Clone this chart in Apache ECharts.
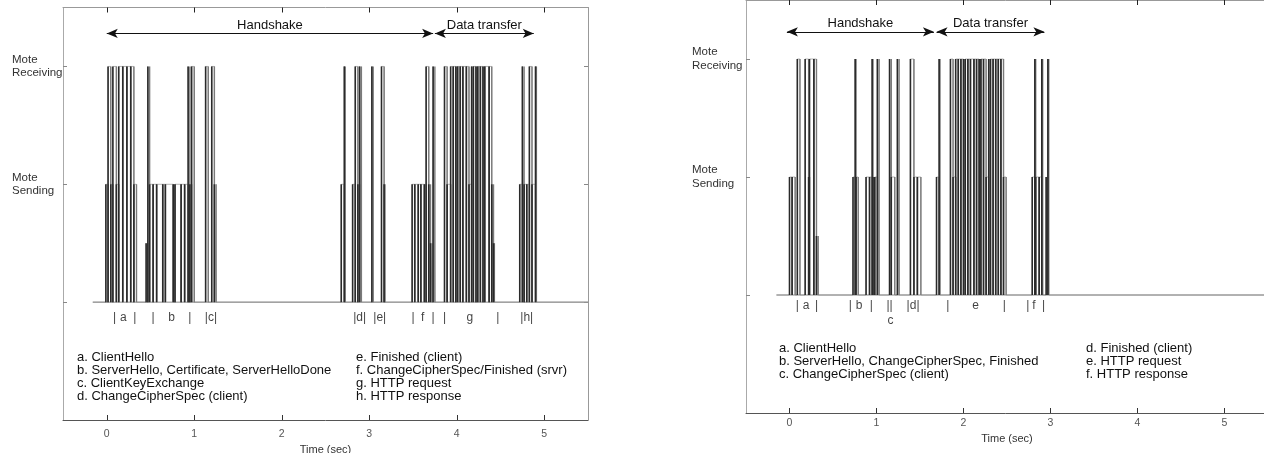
<!DOCTYPE html>
<html>
<head>
<meta charset="utf-8">
<script src="https://cdn.jsdelivr.net/npm/echarts@6/dist/echarts.min.js"></script>
<style>
html,body{margin:0;padding:0;background:#fff;}
#chart{width:1264px;height:453px;}
</style>
</head>
<body>
<div id="chart"></div>
<script>
// ---------- data ----------
const X_TICKS = [0, 1, 2, 3, 4, 5];
const Y_TICKS = [0, 1, 2];
const Y_TICK_LABELS = ['', 'Mote\nSending', 'Mote\nReceiving'];

// [start (s), end (s), state]  state: 0 idle, 1 sending, 2 receiving
const LEFT_SPAN = [-0.16, 5.5];
const LEFT_PULSES = [
  [-0.01, 0.015, 1], [0.015, 0.046, 2], [0.046, 0.07, 1], [0.07, 0.11, 2], [0.11, 0.137, 1],
  [0.137, 0.183, 2], [0.183, 0.23, 2], [0.23, 0.274, 2], [0.274, 0.31, 2], [0.31, 0.34, 1],
  [0.45, 0.47, 0.5], [0.47, 0.49, 2], [0.49, 0.53, 1], [0.53, 0.57, 1], [0.57, 0.64, 1],
  [0.64, 0.67, 1], [0.67, 0.76, 1], [0.76, 0.78, 1], [0.78, 0.85, 1], [0.85, 0.89, 1],
  [0.89, 0.93, 1], [0.93, 0.95, 2], [0.95, 0.97, 1], [0.97, 1.00, 2],
  [1.13, 1.16, 2], [1.20, 1.23, 2], [1.23, 1.25, 1],
  [2.68, 2.715, 1], [2.715, 2.725, 2], [2.81, 2.84, 1], [2.84, 2.87, 2], [2.87, 2.89, 1], [2.89, 2.91, 2],
  [3.03, 3.045, 2], [3.14, 3.17, 2], [3.17, 3.18, 1],
  [3.49, 3.52, 1], [3.52, 3.56, 1], [3.56, 3.59, 1], [3.59, 3.63, 1], [3.63, 3.65, 1],
  [3.65, 3.68, 2], [3.68, 3.70, 1], [3.70, 3.72, 0.5], [3.73, 3.75, 2],
  [3.86, 3.89, 2], [3.89, 3.93, 1], [3.93, 3.96, 2], [3.96, 3.99, 2], [3.99, 4.01, 2],
  [4.01, 4.04, 2], [4.04, 4.07, 2], [4.07, 4.11, 2], [4.11, 4.14, 2], [4.14, 4.17, 1],
  [4.17, 4.19, 2], [4.19, 4.22, 2], [4.22, 4.24, 2], [4.24, 4.27, 2], [4.27, 4.30, 2],
  [4.30, 4.32, 2], [4.32, 4.37, 2], [4.37, 4.40, 2], [4.40, 4.42, 1], [4.42, 4.43, 0.5],
  [4.72, 4.75, 1], [4.75, 4.77, 2], [4.77, 4.80, 1], [4.80, 4.83, 1], [4.83, 4.86, 2],
  [4.86, 4.90, 1], [4.90, 4.91, 2]
];

const RIGHT_SPAN = [-0.15, 5.5];
const RIGHT_PULSES = [
  [0.00, 0.03, 1], [0.03, 0.065, 1], [0.09, 0.12, 2], [0.18, 0.22, 2], [0.22, 0.23, 1],
  [0.23, 0.28, 2], [0.28, 0.31, 2], [0.31, 0.33, 0.5],
  [0.73, 0.755, 1], [0.755, 0.765, 2], [0.765, 0.79, 1], [0.88, 0.92, 1], [0.92, 0.95, 1],
  [0.95, 0.96, 2], [0.96, 0.98, 1], [0.98, 1.01, 1], [1.01, 1.03, 2],
  [1.15, 1.17, 2], [1.17, 1.21, 1], [1.24, 1.26, 2],
  [1.39, 1.43, 2], [1.43, 1.47, 1], [1.47, 1.51, 1],
  [1.69, 1.72, 1], [1.72, 1.73, 2],
  [1.85, 1.88, 2], [1.88, 1.91, 1], [1.91, 1.94, 2], [1.94, 1.97, 2], [1.97, 2.00, 2],
  [2.00, 2.02, 2], [2.02, 2.05, 2], [2.05, 2.08, 2], [2.08, 2.12, 2], [2.12, 2.15, 2],
  [2.15, 2.18, 2], [2.18, 2.20, 2], [2.20, 2.23, 2], [2.23, 2.26, 2], [2.26, 2.29, 1],
  [2.29, 2.31, 2], [2.31, 2.34, 2], [2.34, 2.37, 2], [2.37, 2.40, 2], [2.40, 2.43, 2],
  [2.43, 2.46, 2], [2.46, 2.49, 1],
  [2.79, 2.82, 1], [2.82, 2.83, 2], [2.83, 2.87, 1], [2.87, 2.90, 1], [2.90, 2.91, 2],
  [2.95, 2.97, 1], [2.97, 2.98, 2]
];

// phase arrows: [name, from (s), to (s)]
const LEFT_PHASES = [['Handshake', 0, 3.73], ['Data transfer', 3.75, 4.88]];
const RIGHT_PHASES = [['Handshake', -0.03, 1.66], ['Data transfer', 1.69, 2.93]];

// message markers under the trace: [text, time (s), row]
const LEFT_MARKS = [
  ['|', 0.09, 0], ['a', 0.19, 0], ['|', 0.32, 0], ['|', 0.53, 0], ['b', 0.74, 0], ['|', 0.95, 0],
  ['|c|', 1.19, 0], ['|d|', 2.89, 0], ['|e|', 3.12, 0], ['|', 3.50, 0], ['f', 3.61, 0], ['|', 3.73, 0],
  ['|', 3.86, 0], ['g', 4.15, 0], ['|', 4.47, 0], ['|h|', 4.80, 0]
];
const RIGHT_MARKS = [
  ['|', 0.09, 0], ['a', 0.19, 0], ['|', 0.31, 0], ['|', 0.70, 0], ['b', 0.80, 0], ['|', 0.94, 0],
  ['||', 1.15, 0], ['c', 1.16, 1], ['|d|', 1.42, 0], ['|', 1.82, 0], ['e', 2.14, 0], ['|', 2.47, 0],
  ['|', 2.74, 0], ['f', 2.81, 0], ['|', 2.92, 0]
];

const LEFT_KEY_1 = ['a. ClientHello', 'b. ServerHello, Certificate, ServerHelloDone', 'c. ClientKeyExchange', 'd. ChangeCipherSpec (client)'];
const LEFT_KEY_2 = ['e. Finished (client)', 'f. ChangeCipherSpec/Finished (srvr)', 'g. HTTP request', 'h. HTTP response'];
const RIGHT_KEY_1 = ['a. ClientHello', 'b. ServerHello, ChangeCipherSpec, Finished', 'c. ChangeCipherSpec (client)'];
const RIGHT_KEY_2 = ['d. Finished (client)', 'e. HTTP request', 'f. HTTP response'];

// ---------- build ----------
const FONT = '"Liberation Sans", Arial, Helvetica, sans-serif';

function signal(pulses, span) {
  const pts = [[span[0], 0]];
  pulses.forEach(p => {
    pts.push([p[0], 0], [p[0], p[2]], [p[1], p[2]], [p[1], 0]);
  });
  pts.push([span[1], 0]);
  return pts;
}

function renderEdges(params, api) {
  const t0 = api.value(0), t1 = api.value(1), L = api.value(2);
  const a = api.coord([t0, 0]), b = api.coord([t0, L]);
  const c = api.coord([t1, 0]), d = api.coord([t1, L]);
  return {
    type: 'group',
    children: [
      { type: 'line', shape: { x1: c[0], y1: c[1], x2: d[0], y2: d[1] }, style: { stroke: '#7a7a7a', lineWidth: 1.4 } },
      { type: 'line', shape: { x1: a[0], y1: a[1], x2: b[0], y2: b[1] }, style: { stroke: '#2a2a2a', lineWidth: 1.6 } }
    ]
  };
}

function xAxes(gridIndex, margin, nameGap) {
  return [
    {
      gridIndex, type: 'value', min: -0.5, max: 5.5, position: 'bottom',
      name: 'Time (sec)', nameLocation: 'middle', nameGap,
      nameTextStyle: { fontFamily: FONT, fontSize: 11, color: '#333' },
      axisLine: { show: true, onZero: false, lineStyle: { color: '#555', width: 1 } },
      axisTick: { show: true, inside: true, length: 5, customValues: X_TICKS, lineStyle: { color: '#333' } },
      axisLabel: { show: true, customValues: X_TICKS, margin, fontFamily: FONT, fontSize: 10.5, color: '#555' },
      splitLine: { show: false }
    },
    {
      gridIndex, type: 'value', min: -0.5, max: 5.5, position: 'top',
      axisLine: { show: true, onZero: false, lineStyle: { color: '#999', width: 1 } },
      axisTick: { show: true, inside: true, length: 5, customValues: X_TICKS, lineStyle: { color: '#222', width: 1 } },
      axisLabel: { show: true, customValues: X_TICKS, formatter: () => '' },
      splitLine: { show: false }
    }
  ];
}

function yAxes(gridIndex, margin, pad) {
  return [
    {
      gridIndex, type: 'value', min: -1, max: 2.5, position: 'left',
      axisLine: { show: true, onZero: false, lineStyle: { color: '#aaa', width: 1 } },
      axisTick: { show: true, inside: true, length: 4, customValues: Y_TICKS, lineStyle: { color: '#888' } },
      axisLabel: {
        show: true, customValues: [1, 2], align: 'left', margin,
        formatter: v => Y_TICK_LABELS[Math.round(v)] || '',
        fontFamily: FONT, fontSize: 11.5, lineHeight: 13.5, color: '#333', padding: pad
      },
      splitLine: { show: false }
    },
    {
      gridIndex, type: 'value', min: -1, max: 2.5, position: 'right',
      axisLine: { show: true, onZero: false, lineStyle: { color: '#999', width: 1 } },
      axisTick: { show: true, inside: true, length: 4, customValues: Y_TICKS, lineStyle: { color: '#888' } },
      axisLabel: { show: true, customValues: Y_TICKS, formatter: () => '' },
      splitLine: { show: false }
    }
  ];
}

function panelSeries(xi, yi, pulses, span, phases, marks, arrowY, markY) {
  return [
    {
      type: 'line', xAxisIndex: xi, yAxisIndex: yi, data: signal(pulses, span),
      showSymbol: false, symbol: 'none', silent: true, z: 2,
      lineStyle: { color: '#b4b4b4', width: 1 },
      markLine: {
        silent: true, symbol: ['arrow', 'arrow'], symbolSize: [7, 11], animation: false,
        lineStyle: { color: '#111', width: 1, type: 'solid' },
        label: { show: true, position: 'insideMiddleTop', distance: 2, formatter: '{b}', fontFamily: FONT, fontSize: 13, color: '#111' },
        data: phases.map(p => [{ name: p[0], coord: [p[1], arrowY] }, { coord: [p[2], arrowY] }])
      }
    },
    {
      type: 'line', xAxisIndex: xi, yAxisIndex: yi, data: [[span[0], 0], [span[1], 0]],
      showSymbol: false, symbol: 'none', silent: true, z: 3,
      lineStyle: { color: '#8a8a8a', width: 1 }
    },
    {
      type: 'custom', xAxisIndex: xi, yAxisIndex: yi, data: pulses, silent: true, z: 4,
      encode: { x: [0, 1], y: 2 }, renderItem: renderEdges
    },
    {
      type: 'scatter', xAxisIndex: xi, yAxisIndex: yi, symbolSize: 0, silent: true, z: 5,
      data: marks.map(m => ({ name: m[0], value: [m[1], markY[m[2]]] })),
      label: { show: true, position: 'inside', formatter: '{b}', fontFamily: FONT, fontSize: 12, color: '#111' }
    }
  ];
}

function keyText(lines, x, y0, step) {
  return lines.map((t, i) => ({
    type: 'text', left: x, top: y0 + i * step - 7.5, silent: true,
    style: { text: t, fontFamily: FONT, fontSize: 13, fill: '#111' }
  }));
}

const option = {
  animation: false,
  backgroundColor: '#fff',
  grid: [
    { left: 63, top: 7.5, width: 525, height: 412.5, containLabel: false, outerBoundsMode: 'none' },
    { left: 746, top: 0, width: 522, height: 413, containLabel: false, outerBoundsMode: 'none' }
  ],
  xAxis: [...xAxes(0, 9, 20), ...xAxes(1, 5, 16)],
  yAxis: [...yAxes(0, 51, [3, 0, 0, 0]), ...yAxes(1, 54, [0, 0, 6, 0])],
  series: [
    ...panelSeries(0, 0, LEFT_PULSES, LEFT_SPAN, LEFT_PHASES, LEFT_MARKS, 2.28, [-0.13, -0.24]),
    ...panelSeries(2, 2, RIGHT_PULSES, RIGHT_SPAN, RIGHT_PHASES, RIGHT_MARKS, 2.23, [-0.093, -0.215])
  ],
  graphic: [
    ...keyText(LEFT_KEY_1, 77, 358, 13.3),
    ...keyText(LEFT_KEY_2, 356, 358, 13.3),
    ...keyText(RIGHT_KEY_1, 779, 349.3, 13.2),
    ...keyText(RIGHT_KEY_2, 1086, 349.3, 13.2)
  ]
};

const chart = echarts.init(document.getElementById('chart'), null, { renderer: 'canvas' });
chart.setOption(option);
</script>
</body>
</html>
